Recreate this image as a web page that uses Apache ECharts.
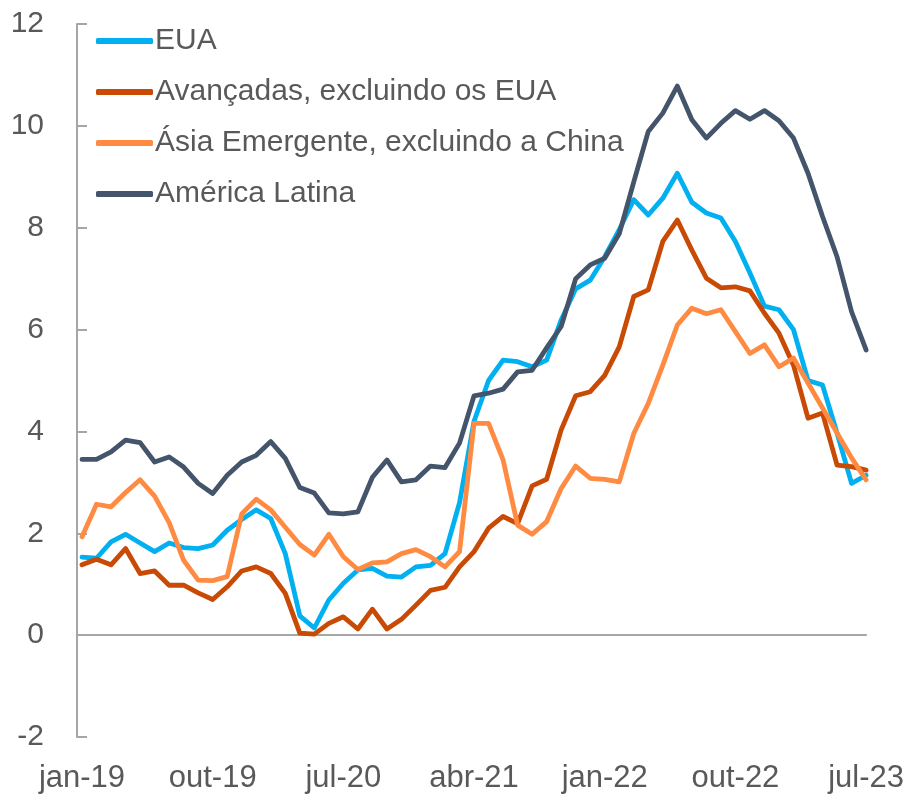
<!DOCTYPE html>
<html>
<head>
<meta charset="utf-8">
<script src="https://cdn.jsdelivr.net/npm/echarts@6/dist/echarts.min.js"></script>
<style>
  html, body { margin: 0; padding: 0; background: #fff; }
  #chart { width: 907px; height: 803px; }
</style>
</head>
<body>
<div id="chart"></div>
<script>
// month names (pt) and years -> category labels jan-19 .. jul-23
const monthNames = ['jan', 'fev', 'mar', 'abr', 'mai', 'jun', 'jul', 'ago', 'set', 'out', 'nov', 'dez'];
const years = ['19', '20', '21', '22', '23'];
const categories = [];
years.forEach(y => monthNames.forEach(m => categories.push(m + '-' + y)));
categories.length = 55; // stop at jul-23

const seriesNames = ['EUA', 'Avançadas, excluindo os EUA', 'Ásia Emergente, excluindo a China', 'América Latina'];

const eua = [1.53, 1.51, 1.83, 1.98, 1.81, 1.64, 1.81, 1.72, 1.70, 1.77, 2.06, 2.27, 2.46, 2.29, 1.60, 0.38, 0.14, 0.69, 1.02, 1.28,
  1.31, 1.16, 1.14, 1.34, 1.37, 1.60, 2.60, 4.20, 5.00, 5.40, 5.37, 5.27, 5.40, 6.19, 6.80, 6.97, 7.43, 7.96, 8.55, 8.25,
  8.58, 9.07, 8.50, 8.29, 8.19, 7.73, 7.11, 6.46, 6.39, 6.00, 5.00, 4.91, 3.97, 2.98, 3.14];

const avancadas = [1.38, 1.49, 1.38, 1.70, 1.21, 1.26, 0.98, 0.98, 0.83, 0.70, 0.95, 1.26, 1.34, 1.21, 0.82, 0.04, 0.02, 0.23, 0.36, 0.12,
  0.51, 0.12, 0.31, 0.59, 0.88, 0.94, 1.34, 1.64, 2.10, 2.33, 2.19, 2.93, 3.06, 4.03, 4.70, 4.78, 5.10, 5.66, 6.65, 6.78,
  7.73, 8.15, 7.56, 7.01, 6.82, 6.84, 6.76, 6.32, 5.93, 5.30, 4.26, 4.36, 3.34, 3.31, 3.24];

const asia = [1.93, 2.57, 2.52, 2.80, 3.05, 2.73, 2.21, 1.47, 1.08, 1.07, 1.15, 2.38, 2.67, 2.46, 2.12, 1.78, 1.57, 1.98, 1.54, 1.29,
  1.42, 1.44, 1.60, 1.68, 1.54, 1.34, 1.64, 4.16, 4.16, 3.44, 2.16, 1.98, 2.23, 2.88, 3.32, 3.08, 3.06, 3.01, 3.96, 4.55,
  5.30, 6.09, 6.42, 6.31, 6.39, 5.96, 5.53, 5.70, 5.27, 5.44, 4.95, 4.46, 3.97, 3.48, 3.05];

const latam = [3.45, 3.45, 3.60, 3.83, 3.78, 3.40, 3.50, 3.30, 2.98, 2.78, 3.14, 3.40, 3.53, 3.80, 3.47, 2.90, 2.79, 2.40, 2.38, 2.42,
  3.10, 3.44, 3.01, 3.05, 3.32, 3.29, 3.77, 4.70, 4.75, 4.83, 5.17, 5.20, 5.64, 6.06, 7.00, 7.27, 7.40, 7.88, 8.90, 9.89,
  10.25, 10.78, 10.12, 9.76, 10.05, 10.30, 10.13, 10.30, 10.10, 9.76, 9.07, 8.22, 7.43, 6.35, 5.60];

const colors = ['#00B0F0', '#C94A04', '#FF8B43', '#44546A'];
const font = 'Liberation Sans, Arial, sans-serif';
const axisGray = '#A6A6A6';
const textGray = '#595959';

const chart = echarts.init(document.getElementById('chart'));

function lineSeries(name, data, color) {
  return {
    name: name,
    type: 'line',
    data: data,
    xAxisIndex: 0,
    symbol: 'none',
    smooth: false,
    lineStyle: { color: color, width: 4.8, cap: 'round', join: 'round' },
    itemStyle: { color: color },
    z: 3
  };
}

const option = {
  backgroundColor: '#fff',
  animation: false,
  grid: { left: 82, right: 40, top: 24, bottom: 66 },
  legend: {
    orient: 'vertical',
    left: 91,
    top: 21,
    itemWidth: 57,
    itemHeight: 6,
    itemGap: 21,
    icon: 'roundRect',
    data: seriesNames,
    textStyle: { color: textGray, fontSize: 30, fontFamily: font, padding: [0, 0, 0, -3] }
  },
  xAxis: [
    {
      type: 'category',
      data: categories,
      boundaryGap: false,
      axisLine: { onZero: true, lineStyle: { color: axisGray, width: 2 } },
      axisTick: { show: false },
      axisLabel: { show: false },
      splitLine: { show: false }
    },
    {
      type: 'category',
      data: categories,
      boundaryGap: false,
      position: 'bottom',
      axisLine: { show: false, onZero: false },
      axisTick: { show: false },
      axisLabel: {
        interval: 8,
        margin: 26,
        color: textGray,
        fontSize: 31,
        fontFamily: font
      },
      splitLine: { show: false }
    }
  ],
  yAxis: {
    type: 'value',
    min: -2,
    max: 12,
    interval: 2,
    offset: 5,
    axisLine: { show: true, lineStyle: { color: axisGray, width: 2 } },
    axisTick: { show: true, inside: true, length: 10, lineStyle: { color: axisGray, width: 2 } },
    axisLabel: { margin: 33, color: textGray, fontSize: 30, fontFamily: font },
    splitLine: { show: false }
  },
  series: [
    lineSeries(seriesNames[0], eua, colors[0]),
    lineSeries(seriesNames[1], avancadas, colors[1]),
    lineSeries(seriesNames[2], asia, colors[2]),
    lineSeries(seriesNames[3], latam, colors[3])
  ]
};

chart.setOption(option);
</script>
</body>
</html>
